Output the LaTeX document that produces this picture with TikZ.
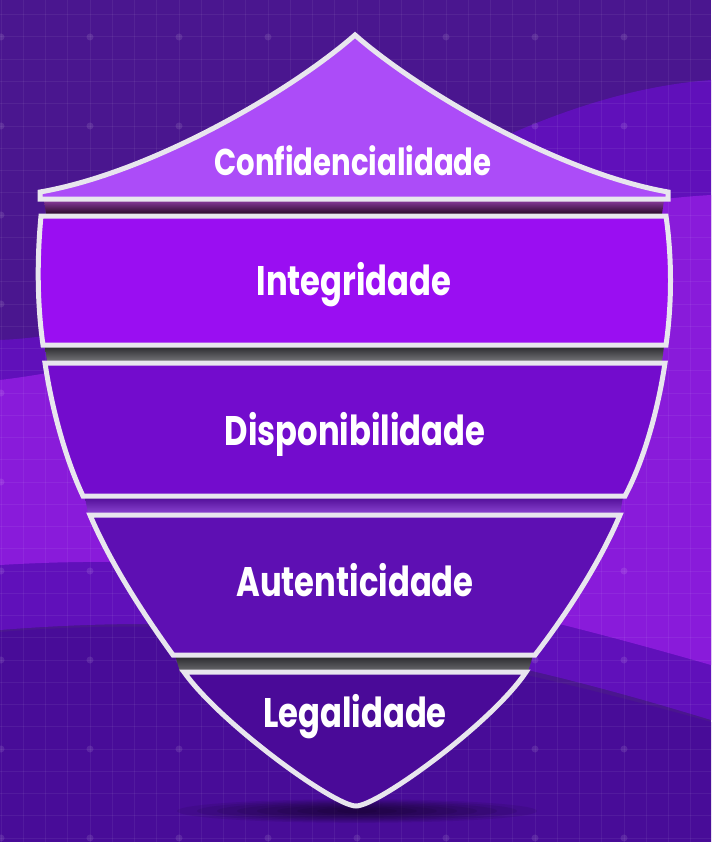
\documentclass[tikz,border=0pt]{standalone}
\usepackage{fontspec}
\newfontfamily\bandfont{Poppins}[FakeStretch=0.78]
\usetikzlibrary{calc}
\tikzstyle{bandline} = [draw={rgb, 255:red, 232; green, 230; blue, 238}, line width=3.75pt, line join=miter]
\tikzstyle{bandtext} = [text=white, font=\bandfont\bfseries\fontsize{31}{31}\selectfont, anchor=base, inner sep=0pt]
\tikzstyle{gridline} = [white, opacity=0.06, line width=0.75pt]

\begin{document}
\begin{tikzpicture}[x=0.75pt,y=0.75pt,yscale=-1,xscale=1]
\clip (0,0) rectangle (711,842);

%Shape: Background
\fill [color={rgb, 255:red, 74; green, 22; blue, 143 }] (0,0) rectangle (711,842);
%Shape: Wave medium
\fill [color={rgb, 255:red, 96; green, 16; blue, 186 }] (0,340) .. controls (250,330) and (450,100) .. (711,80) -- (711,720) .. controls (450,640) and (250,610) .. (0,630) -- cycle ;
%Shape: Wave bright
\fill [color={rgb, 255:red, 137; green, 27; blue, 218 }] (0,380) .. controls (250,350) and (450,210) .. (711,195) -- (711,665) .. controls (450,590) and (250,550) .. (0,565) -- cycle ;
%Shape: Wave bottom
\fill [color={rgb, 255:red, 72; green, 12; blue, 152 }] (0,632) .. controls (250,612) and (450,650) .. (711,722) -- (711,842) -- (0,842) -- cycle ;

%Grid
\foreach \gx in {1,23.25,...,711} \draw [gridline] (\gx,0) -- (\gx,842);
\foreach \gy in {-7.5,14.75,...,842} \draw [gridline] (0,\gy) -- (711,\gy);
\foreach \gx in {1,90,...,711}
  \foreach \gy in {37,126,...,842}
    \fill [white, opacity=0.1] (\gx,\gy) circle (3.5);

%Shape: Tip shadow
\foreach \r in {1,...,9}
  \fill [black, opacity=0.08] (357,811) ellipse ({200-\r*20} and {13-\r*1.2});

%Shape: Strip under band 1
\shade [top color={rgb, 255:red, 140; green, 60; blue, 160 }, bottom color={rgb, 255:red, 40; green, 8; blue, 40 }] (44,200) -- (664,200) -- (662,214) -- (46,214) -- cycle ;
%Shape: Strip under band 2
\shade [top color={rgb, 255:red, 40; green, 40; blue, 44 }, bottom color={rgb, 255:red, 120; green, 120; blue, 124 }] (45,346) -- (664,346) -- (662,362) -- (47,362) -- cycle ;
%Shape: Strip under band 3
\shade [top color={rgb, 255:red, 80; green, 12; blue, 150 }, bottom color={rgb, 255:red, 140; green, 70; blue, 210 }] (85,497) -- (623,497) -- (620,514) -- (88,514) -- cycle ;
%Shape: Strip under band 4
\shade [top color={rgb, 255:red, 36; green, 36; blue, 40 }, bottom color={rgb, 255:red, 110; green, 110; blue, 114 }] (175,655) -- (533,655) -- (528,672) -- (180,672) -- cycle ;

%Shape: Band 1
\draw [bandline, fill={rgb, 255:red, 172; green, 76; blue, 248 }] (40,199) -- (40,192) .. controls (150,173) and (290,92) .. (355,35) .. controls (420,92) and (560,173) .. (668,192) -- (668,199) -- cycle ;
%Shape: Band 2
\draw [bandline, fill={rgb, 255:red, 154; green, 14; blue, 242 }] (41,216) -- (666,216) .. controls (672,258) and (672,303) .. (666,345) -- (43,345) .. controls (37,303) and (37,258) .. (41,216) -- cycle ;
%Shape: Band 3
\draw [bandline, fill={rgb, 255:red, 115; green, 12; blue, 205 }] (45,363) -- (665,363) .. controls (658,410) and (644,460) .. (625,496) -- (83,496) .. controls (66,460) and (52,410) .. (45,363) -- cycle ;
%Shape: Band 4
\draw [bandline, fill={rgb, 255:red, 94; green, 15; blue, 179 }] (90,515) -- (620,515) .. controls (600,562) and (568,612) .. (535,655) -- (173,655) .. controls (142,612) and (110,562) .. (90,515) -- cycle ;
%Shape: Band 5
\draw [bandline, fill={rgb, 255:red, 74; green, 10; blue, 152 }] (184,672) -- (526,672) .. controls (492,723) and (378,806) .. (356,806) .. controls (334,806) and (220,723) .. (184,672) -- cycle ;

% Text Node
\node [bandtext, font=\bandfont\bfseries\fontsize{28}{28}\selectfont] (conf) at (353,175) {Confidencialidade};
% Text Node
\node [bandtext] (integ) at (354,295) {Integridade};
% Text Node
\node [bandtext] (dispo) at (355,445) {Disponibilidade};
% Text Node
\node [bandtext] (autent) at (355,596) {Autenticidade};
% Text Node
\node [bandtext] (legal) at (355,727) {Legalidade};

\end{tikzpicture}
\end{document}
